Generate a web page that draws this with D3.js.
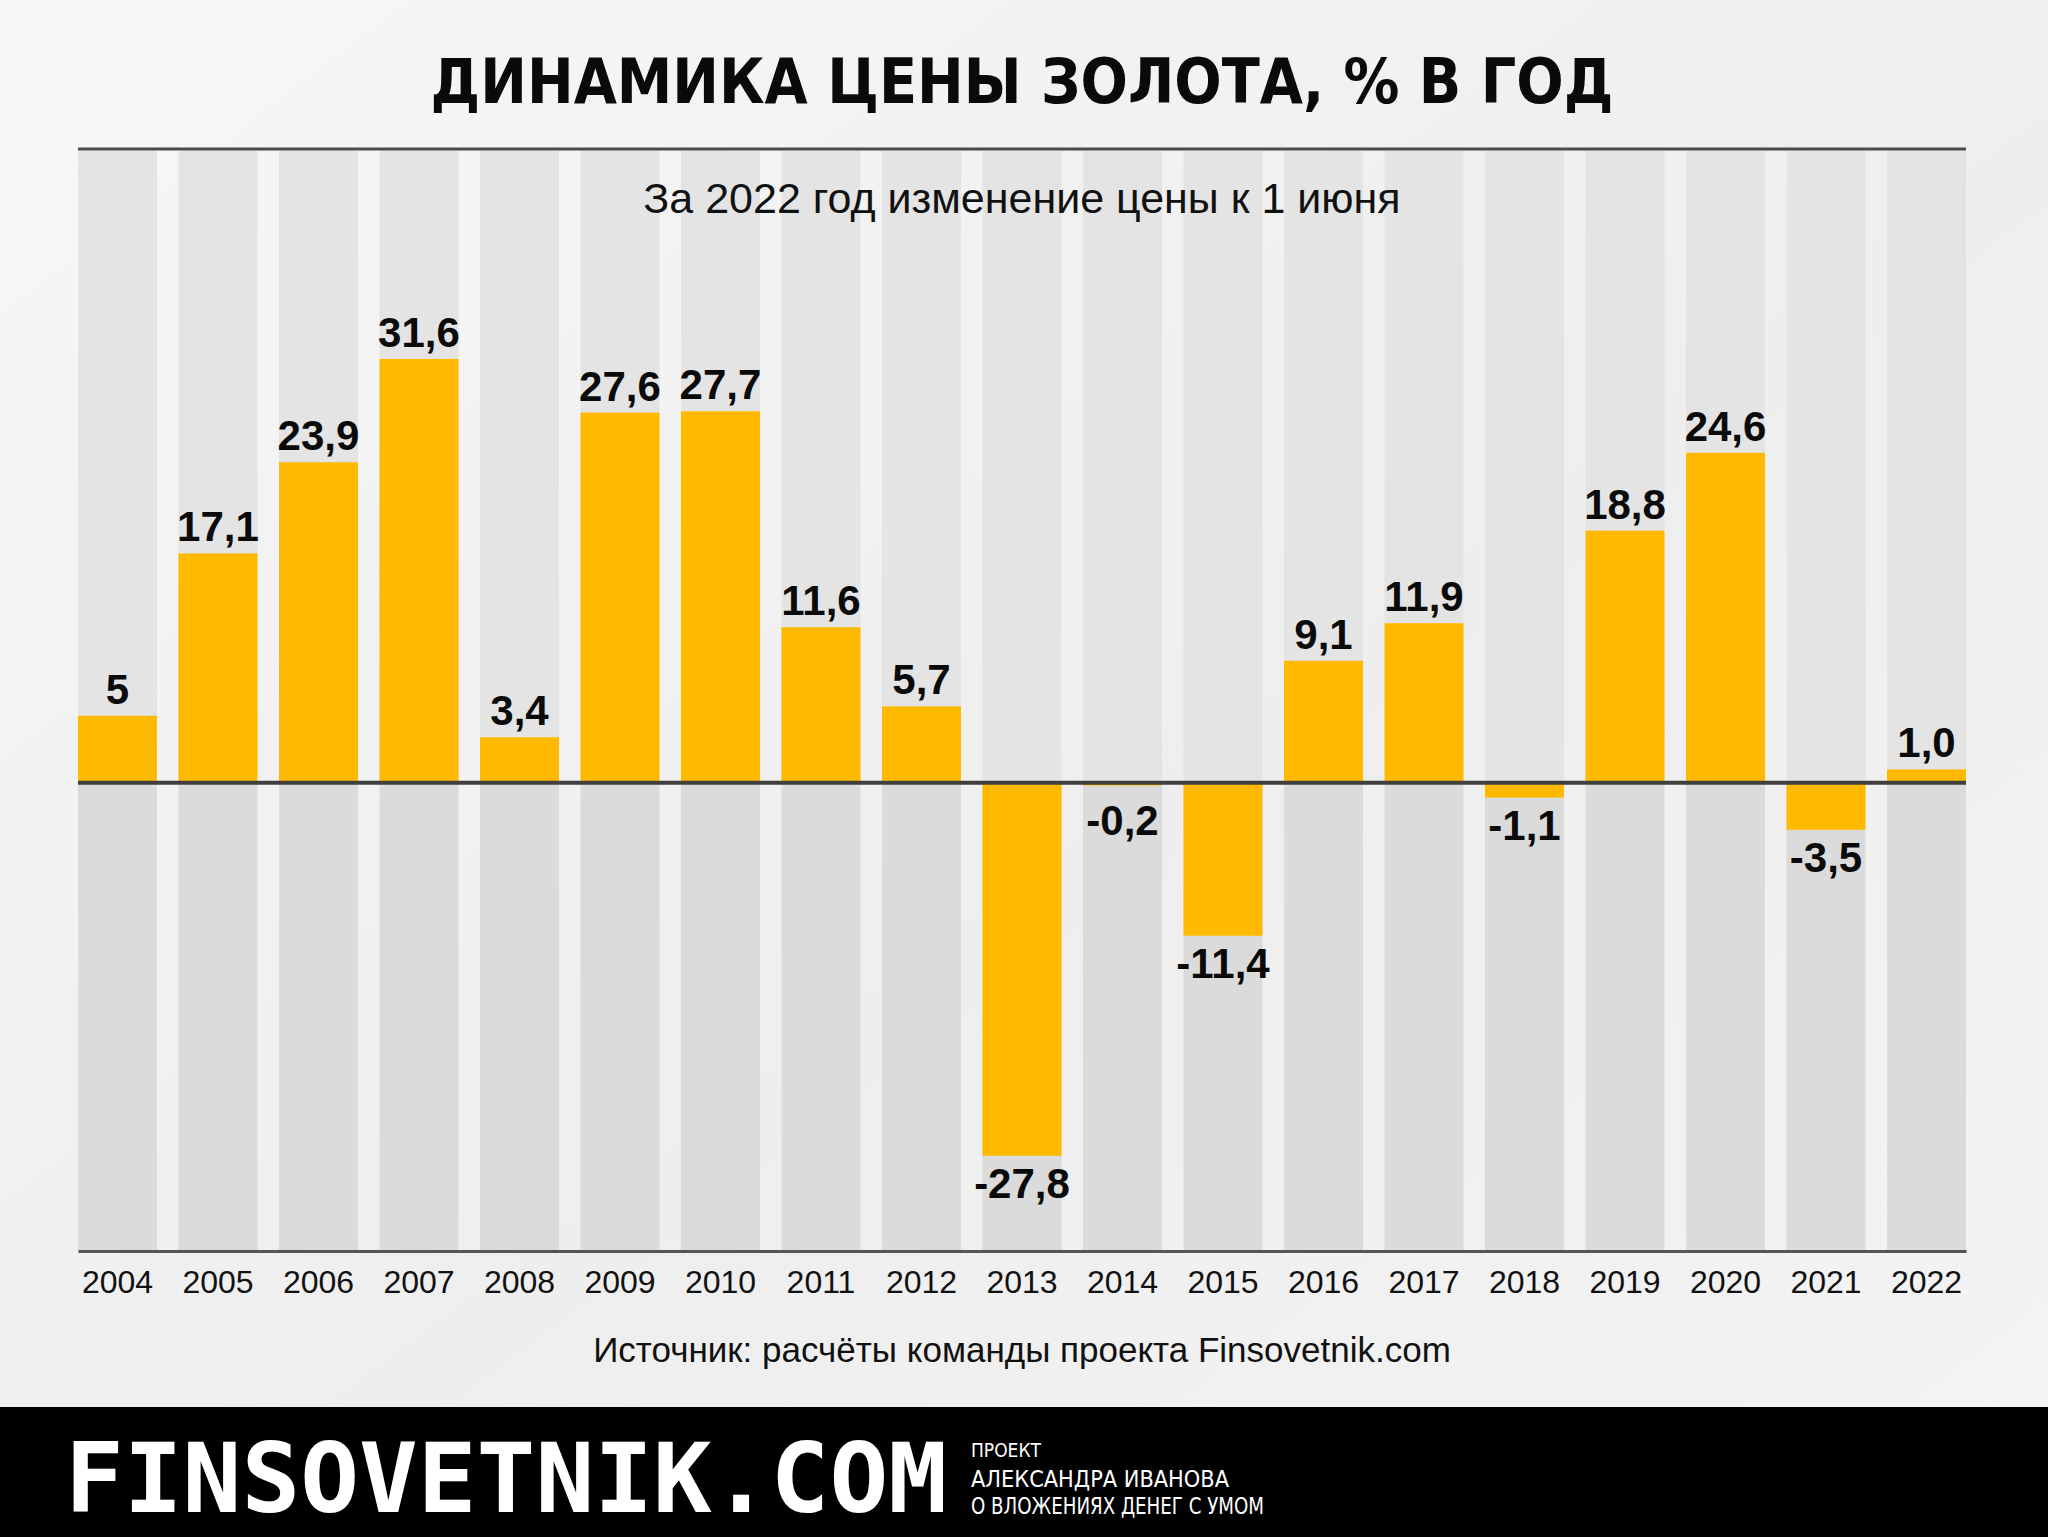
<!DOCTYPE html>
<html>
<head>
<meta charset="utf-8">
<script src="https://cdn.jsdelivr.net/npm/d3@7"></script>
<style>
  html, body { margin: 0; padding: 0; background: #f2f2f2; }
  svg { display: block; }
</style>
</head>
<body>
<svg id="chart" width="2048" height="1537"></svg>
<script>
const years = ["2004", "2005", "2006", "2007", "2008", "2009", "2010", "2011", "2012", "2013",
  "2014", "2015", "2016", "2017", "2018", "2019", "2020", "2021", "2022"];
const changes = [5, 17.1, 23.9, 31.6, 3.4, 27.6, 27.7, 11.6, 5.7, -27.8,
  -0.2, -11.4, 9.1, 11.9, -1.1, 18.8, 24.6, -3.5, 1.0];
const valueLabels = ["5", "17,1", "23,9", "31,6", "3,4", "27,6", "27,7", "11,6", "5,7", "-27,8",
  "-0,2", "-11,4", "9,1", "11,9", "-1,1", "18,8", "24,6", "-3,5", "1,0"];

const titleText = "ДИНАМИКА ЦЕНЫ ЗОЛОТА, % В ГОД";
const subtitleText = "За 2022 год изменение цены к 1 июня";
const sourceText = "Источник: расчёты команды проекта Finsovetnik.com";
const logoText = "FINSOVETNIK.COM";
const taglineLines = ["ПРОЕКТ", "АЛЕКСАНДРА ИВАНОВА", "О ВЛОЖЕНИЯХ ДЕНЕГ С УМОМ"];

const data = years.map((year, i) => ({ year, value: changes[i], label: valueLabels[i] }));

const width = 2048;
const height = 1537;
const svg = d3.select("#chart");

const defs = svg.append("defs");
const grad = defs.append("linearGradient")
  .attr("id", "bg")
  .attr("x1", "0").attr("y1", "0")
  .attr("x2", "1").attr("y2", "1");
grad.append("stop").attr("offset", "0%").attr("stop-color", "#f7f7f7");
grad.append("stop").attr("offset", "55%").attr("stop-color", "#eeeeee");
grad.append("stop").attr("offset", "100%").attr("stop-color", "#f4f4f4");

svg.append("rect")
  .attr("width", width)
  .attr("height", height)
  .attr("fill", "url(#bg)");

const plotTop = 151;
const plotBottom = 1251;

const x = d3.scaleBand()
  .domain(years)
  .range([78, 1966])
  .paddingInner(0.214)
  .paddingOuter(0);

const y = d3.scaleLinear()
  .domain([-34.9, 47.1])
  .range([plotBottom, plotTop]);

const g = svg.append("g");

// background columns, lighter above zero, darker below
g.append("g")
  .selectAll("rect")
  .data(data)
  .join("rect")
  .attr("x", d => x(d.year))
  .attr("y", plotTop)
  .attr("width", x.bandwidth())
  .attr("height", y(0) - plotTop)
  .attr("fill", "#e4e4e4");

g.append("g")
  .selectAll("rect")
  .data(data)
  .join("rect")
  .attr("x", d => x(d.year))
  .attr("y", y(0))
  .attr("width", x.bandwidth())
  .attr("height", plotBottom - y(0))
  .attr("fill", "#dbdbdb");

// bars
g.append("g")
  .selectAll("rect")
  .data(data)
  .join("rect")
  .attr("x", d => x(d.year))
  .attr("y", d => y(Math.max(0, d.value)))
  .attr("width", x.bandwidth())
  .attr("height", d => Math.abs(y(d.value) - y(0)))
  .attr("fill", "#ffba00");

// top border
g.append("line")
  .attr("x1", 78).attr("x2", 1966)
  .attr("y1", plotTop - 2).attr("y2", plotTop - 2)
  .attr("stroke", "#4a4a48")
  .attr("stroke-width", 3);

// zero line
g.append("line")
  .attr("x1", 78).attr("x2", 1966)
  .attr("y1", y(0)).attr("y2", y(0))
  .attr("stroke", "#403f3d")
  .attr("stroke-width", 4);

// x axis with year labels
const xAxis = g.append("g")
  .attr("transform", `translate(0,${plotBottom})`)
  .call(d3.axisBottom(x).tickSize(0).tickPadding(19).tickSizeOuter(0));

xAxis.select(".domain")
  .attr("stroke", "#555553")
  .attr("stroke-width", 3);

xAxis.selectAll("text")
  .attr("font-family", "'Liberation Sans', Arial, sans-serif")
  .attr("font-size", "32px")
  .attr("fill", "#111");

// value labels (negative ones keep some clearance from the zero line)
g.append("g")
  .selectAll("text")
  .data(data)
  .join("text")
  .attr("x", d => x(d.year) + x.bandwidth() / 2)
  .attr("y", d => d.value >= 0 ? y(d.value) - 12 : Math.max(y(d.value) + 42, y(0) + 52))
  .attr("text-anchor", "middle")
  .attr("font-family", "'Liberation Sans', Arial, sans-serif")
  .attr("font-weight", "bold")
  .attr("font-size", "42px")
  .attr("fill", "#0a0a0a")
  .text(d => d.label);

// title
svg.append("text")
  .attr("x", 1022)
  .attr("y", 103)
  .attr("text-anchor", "middle")
  .attr("font-family", "'DejaVu Sans Condensed', 'DejaVu Sans', sans-serif")
  .attr("font-weight", "bold")
  .attr("font-size", "62px")
  .attr("fill", "#0a0a0a")
  .text(titleText);

// subtitle
svg.append("text")
  .attr("x", 1022)
  .attr("y", 213)
  .attr("text-anchor", "middle")
  .attr("font-family", "'Liberation Sans', Arial, sans-serif")
  .attr("font-size", "43px")
  .attr("fill", "#111")
  .text(subtitleText);

// source
svg.append("text")
  .attr("x", 1022)
  .attr("y", 1362)
  .attr("text-anchor", "middle")
  .attr("font-family", "'Liberation Sans', Arial, sans-serif")
  .attr("font-size", "35px")
  .attr("fill", "#111")
  .text(sourceText);

// footer band
const footer = svg.append("g");
footer.append("rect")
  .attr("x", 0)
  .attr("y", 1407)
  .attr("width", width)
  .attr("height", height - 1407)
  .attr("fill", "#000");

footer.append("text")
  .attr("x", 65)
  .attr("y", 1512)
  .attr("font-family", "'DejaVu Sans Mono', monospace")
  .attr("font-weight", "bold")
  .attr("font-size", "96px")
  .attr("textLength", 882)
  .attr("lengthAdjust", "spacingAndGlyphs")
  .attr("fill", "#fff")
  .text(logoText);

const taglineY = [1457, 1487, 1514];
const taglineSize = [19, 23, 23];
const taglineLen = [70, 258, 293];
footer.selectAll(".tagline")
  .data(taglineLines)
  .join("text")
  .attr("class", "tagline")
  .attr("x", 971)
  .attr("y", (d, i) => taglineY[i])
  .attr("font-family", "'DejaVu Sans Condensed', 'DejaVu Sans', sans-serif")
  .attr("font-size", (d, i) => taglineSize[i] + "px")
  .attr("textLength", (d, i) => taglineLen[i])
  .attr("lengthAdjust", "spacingAndGlyphs")
  .attr("fill", "#fff")
  .text(d => d);
</script>
</body>
</html>
